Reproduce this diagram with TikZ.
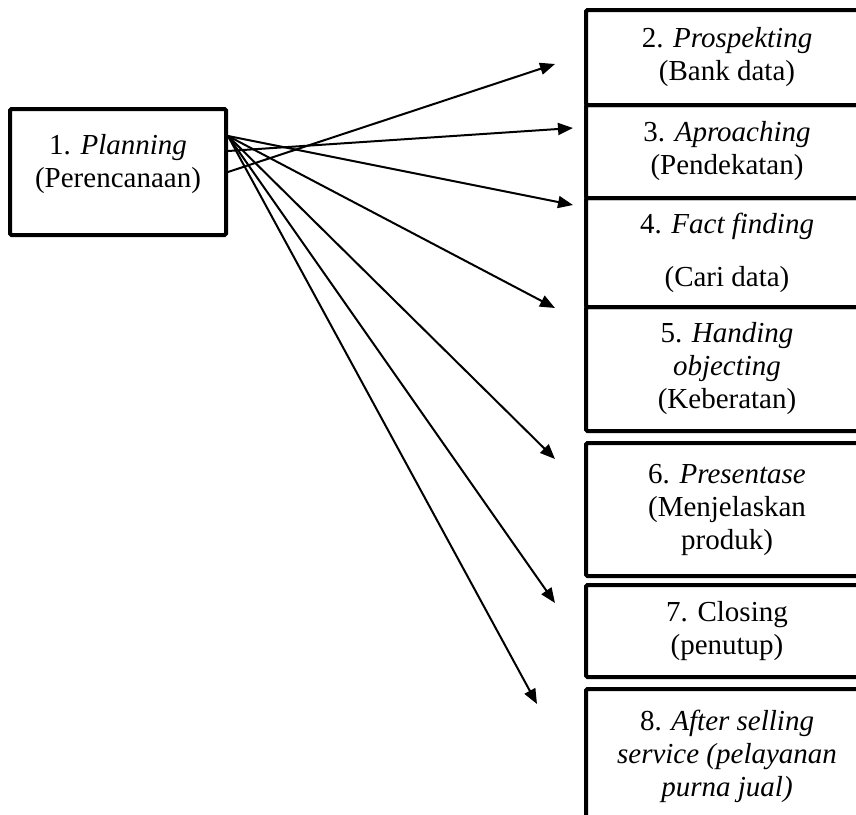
\documentclass[tikz,border=0pt]{standalone}
\usepackage{fontspec}
\setmainfont{Liberation Serif}
\usetikzlibrary{arrows.meta}
\begin{document}
\begin{tikzpicture}[x=1pt,y=-1pt,
  stepbox/.style={draw=black, line width=4pt, rounded corners=1.5pt, minimum width=282pt,
    align=center, inner sep=0pt, font=\fontsize{29}{33}\selectfont},
  planbox/.style={draw=black, line width=4pt, rounded corners=1.5pt, minimum width=216pt,
    minimum height=126pt, inner sep=0pt},
  arr/.style={line width=2pt, -{Triangle[length=15pt,width=12pt]}}
]
\useasboundingbox (0,0) rectangle (856,814);
\clip (0,0) rectangle (856,814);
\fill[white] (0,0) rectangle (856,814);

% planning box
\node[planbox, label={[align=center, inner sep=0pt, font=\fontsize{29}{33}\selectfont, yshift=8pt]center:{1. \textit{Planning}\\(Perencanaan)}}] (plan) at (118,172) {};

% right boxes
\node[stepbox, minimum height=95pt]  (b2) at (727,57.5) {2. \textit{Prospekting}\\(Bank data)};
\node[stepbox, minimum height=93pt]  (b3) at (727,151.5) {3. \textit{Aproaching}\\(Pendekatan)};
\node[stepbox, minimum height=109pt] (b4) at (727,252.5) {4. \textit{Fact finding}\\[20pt](Cari data)};
\node[stepbox, minimum height=124pt] (b5) at (727,369) {5. \textit{Handing}\\\textit{objecting}\\(Keberatan)};
\node[stepbox, minimum height=133pt] (b6) at (727,509.5) {6. \textit{Presentase}\\(Menjelaskan\\produk)};
\node[stepbox, minimum height=92pt]  (b7) at (727,631) {7. Closing\\(penutup)};
\node[stepbox, minimum height=134pt] (b8) at (727,756) {8. \textit{After selling}\\\textit{service (pelayanan}\\\textit{purna jual)}};

% connector ends
\coordinate (s1) at (228,136);
\coordinate (s2) at (228,151);
\coordinate (s3) at (228,172);
\coordinate (t2) at (555,64);
\coordinate (t3) at (573,128);
\coordinate (t4) at (573,205);
\coordinate (t5) at (555,308);
\coordinate (t6) at (555,459);
\coordinate (t7) at (555,603);
\coordinate (t8) at (537,704);

\draw[arr] (s3) -- (t2);
\draw[arr] (s2) -- (t3);
\draw[arr] (s1) -- (t4);
\draw[arr] (s1) -- (t5);
\draw[arr] (s1) -- (t6);
\draw[arr] (s1) -- (t7);
\draw[arr] (s1) -- (t8);
\end{tikzpicture}
\end{document}
